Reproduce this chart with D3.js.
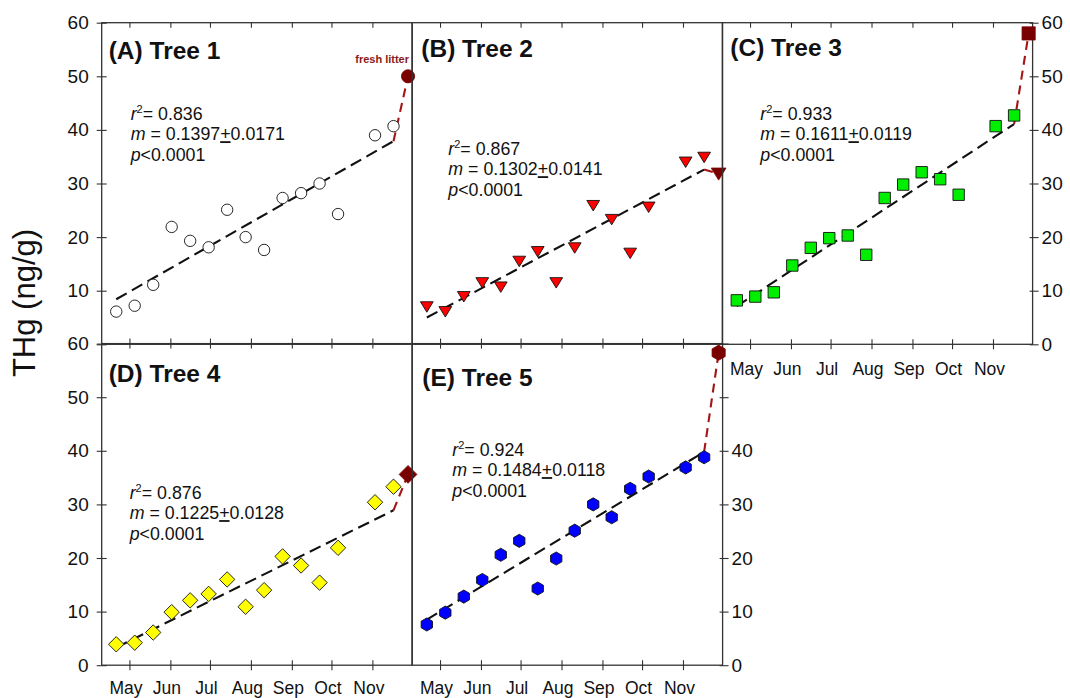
<!DOCTYPE html>
<html>
<head>
<meta charset="utf-8">
<script src="https://cdn.jsdelivr.net/npm/d3@7"></script>
<style>
  body { margin: 0; background: #fff; }
  text { font-family: "Liberation Sans", Arial, sans-serif; fill: #111; }
</style>
</head>
<body>
<svg id="chart"></svg>
<script>
// sampling dates (biweekly) and fresh litter date
const sampleDates = ["2014-04-21", "2014-05-05", "2014-05-19", "2014-06-02", "2014-06-16",
  "2014-06-30", "2014-07-14", "2014-07-28", "2014-08-11", "2014-08-25", "2014-09-08",
  "2014-09-22", "2014-10-06", "2014-11-03", "2014-11-17"];
const freshDate = "2014-11-28";

// THg (ng/g) per tree
const tree1 = [6.1, 7.2, 11.1, 21.9, 19.3, 18.1, 25.1, 20.0, 17.6, 27.3, 28.2, 30.0, 24.3, 39.0, 40.7];
const tree2 = [7.0, 6.1, 8.9, 11.5, 10.7, 15.5, 17.3, 11.5, 18.0, 25.9, 23.3, 17.0, 25.6, 34.0, 34.9];
const tree3 = [8.2, 8.9, 9.7, 14.7, 18.0, 19.8, 20.3, 16.7, 27.3, 29.8, 32.1, 30.8, 27.9, 40.7, 42.7];
const tree4 = [3.9, 4.2, 6.1, 9.9, 12.1, 13.3, 16.0, 10.9, 14.0, 20.3, 18.6, 15.4, 21.9, 30.4, 33.3];
const tree5 = [7.6, 9.8, 12.8, 15.9, 20.6, 23.2, 14.3, 19.9, 25.1, 30.0, 27.6, 32.9, 35.2, 36.9, 38.8];
const freshLitter = [50.0, 31.8, 58.0, 35.6, 58.3];

// regression line ends
const fitStart = [8.4, 5.0, 7.1, 3.3, 8.5];
const fitEnd = [37.9, 32.6, 41.1, 28.9, 39.8];

const titles = ["(A) Tree 1", "(B) Tree 2", "(C) Tree 3", "(D) Tree 4", "(E) Tree 5"];
const r2 = ["0.836", "0.867", "0.933", "0.876", "0.924"];
const slope = ["0.1397", "0.1302", "0.1611", "0.1225", "0.1484"];
const slopeErr = ["0.0171", "0.0141", "0.0119", "0.0128", "0.0118"];
const pText = "<0.0001";

const yTicks = [0, 10, 20, 30, 40, 50, 60];
const monthTicks = ["2014-05-01", "2014-06-01", "2014-07-01", "2014-08-01", "2014-09-01", "2014-10-01", "2014-11-01"];
const monthNames = ["May", "Jun", "Jul", "Aug", "Sep", "Oct", "Nov"];

const series = [tree1, tree2, tree3, tree4, tree5];
const parse = d3.utcParse("%Y-%m-%d");

// layout
const W = 1070, H = 698;
const colX = [101.7, 412.3, 722.3];
const rowY = [22.7, 343.6];
const pw = 310.3, ph = 321.6;
const panelCol = [0, 1, 2, 0, 1];
const panelRow = [0, 0, 0, 1, 1];
const titleOff = [[7, 36], [9, 34], [8, 33], [7, 38], [10, 42]];
const statsOff = [[29, 97], [36, 132], [38, 97], [28, 155], [40, 112]];
const shapes = ["circle", "triDown", "square", "diamond", "hexagon"];
const fills = ["#ffffff", "#ff0000", "#00ee00", "#ffff00", "#0000ff"];
const litterColor = "#7a0000";
const litterLine = "#a31515";
const frameColor = "#333";

function shapePath(type, s) {
  if (type === "circle") return `M${-s},0A${s},${s} 0 1,0 ${s},0A${s},${s} 0 1,0 ${-s},0Z`;
  if (type === "triDown") return `M${-s * 1.12},${-s * 0.88}L${s * 1.12},${-s * 0.88}L0,${s * 0.95}Z`;
  if (type === "square") return `M${-s},${-s}L${s},${-s}L${s},${s}L${-s},${s}Z`;
  if (type === "diamond") return `M0,${-s * 1.35}L${s * 1.35},0L0,${s * 1.35}L${-s * 1.35},0Z`;
  const pts = d3.range(6).map(k => {
    const a = (-90 + 60 * k) * Math.PI / 180;
    return [s * 1.15 * Math.cos(a), s * 1.15 * Math.sin(a)];
  });
  return "M" + pts.map(p => p.join(",")).join("L") + "Z";
}

const svg = d3.select("#chart").attr("width", W).attr("height", H);
svg.append("rect").attr("width", W).attr("height", H).attr("fill", "#fff");

// y label
svg.append("text")
    .attr("transform", "translate(35,303) rotate(-90)")
    .attr("text-anchor", "middle")
    .attr("font-size", 31)
    .text("THg (ng/g)");

const x = d3.scaleUtc()
    .domain([Date.UTC(2014, 3, 10), Date.UTC(2014, 11, 1)])
    .range([0, pw]);
const y = d3.scaleLinear().domain([0, 60]).range([ph, 0]);

series.forEach((vals, i) => {
  const col = panelCol[i], row = panelRow[i];
  const g = svg.append("g").attr("transform", `translate(${colX[col]},${rowY[row]})`);

  // frame
  g.append("rect").attr("width", pw).attr("height", ph)
      .attr("fill", "none").attr("stroke", frameColor).attr("stroke-width", 1.3);

  const mt = monthTicks.map(parse);

  // top ticks
  const top = g.append("g").call(d3.axisTop(x).tickValues(mt).tickSize(5).tickFormat(""));
  top.select(".domain").remove();
  top.selectAll(".tick line").attr("y1", row === 0 ? 0 : 5).attr("y2", row === 0 ? 5 : -5)
      .attr("stroke", frameColor).attr("stroke-width", 1.1);

  // bottom ticks + month labels where the panel has nothing below
  const hasBottom = row === 1 || col === 2;
  if (hasBottom) {
    const bot = g.append("g").attr("transform", `translate(0,${ph})`)
        .call(d3.axisBottom(x).tickValues(mt).tickSize(5).tickFormat((d, k) => monthNames[k]));
    bot.select(".domain").remove();
    bot.selectAll(".tick line").attr("y1", -5).attr("stroke", frameColor).attr("stroke-width", 1.1);
    bot.selectAll(".tick text").attr("y", row === 1 ? 29 : 31).attr("dy", 0).attr("dx", -4)
        .attr("font-size", 17.5).attr("font-family", "Liberation Sans, Arial, sans-serif").attr("fill", "#111");
  }

  // left y axis
  if (col === 0) {
    const shown = row === 0 ? [10, 20, 30, 40, 50, 60] : yTicks;
    const ax = g.append("g")
        .call(d3.axisLeft(y).tickValues(yTicks).tickSize(5).tickPadding(8)
          .tickFormat(d => shown.includes(d) ? d : ""));
    ax.select(".domain").remove();
    ax.selectAll(".tick line").attr("x1", 5).attr("stroke", frameColor).attr("stroke-width", 1.1);
    ax.selectAll(".tick text").attr("font-size", 19)
        .attr("font-family", "Liberation Sans, Arial, sans-serif").attr("fill", "#111");
  }
  // right y axis (C and E)
  if (col === 2 || (col === 1 && row === 1)) {
    const shown = col === 2 ? yTicks : [0, 10, 20, 30, 40];
    const ax = g.append("g").attr("transform", `translate(${pw},0)`)
        .call(d3.axisRight(y).tickValues(yTicks).tickSize(6).tickPadding(3)
          .tickFormat(d => shown.includes(d) ? d : ""));
    ax.select(".domain").remove();
    ax.selectAll(".tick line").attr("x1", -3).attr("stroke", frameColor).attr("stroke-width", 1.1);
    ax.selectAll(".tick text").attr("font-size", 19)
        .attr("font-family", "Liberation Sans, Arial, sans-serif").attr("fill", "#111");
  }

  const d0 = parse(sampleDates[0]);
  const dN = parse(sampleDates[sampleDates.length - 1]);
  const dF = parse(freshDate);

  // regression line
  g.append("line")
      .attr("x1", x(d0)).attr("y1", y(fitStart[i]))
      .attr("x2", x(dN)).attr("y2", y(fitEnd[i]))
      .attr("stroke", "#111").attr("stroke-width", 2.1).attr("stroke-dasharray", "12,6");

  // link to fresh litter
  g.append("line")
      .attr("x1", x(dN)).attr("y1", y(fitEnd[i]))
      .attr("x2", x(dF)).attr("y2", y(freshLitter[i]))
      .attr("stroke", litterLine).attr("stroke-width", 2.1).attr("stroke-dasharray", "9,6");

  // samples
  g.selectAll(".pt").data(vals).enter().append("path")
      .attr("class", "pt")
      .attr("transform", (d, k) => `translate(${x(parse(sampleDates[k]))},${y(d)})`)
      .attr("d", shapePath(shapes[i], 5.7))
      .attr("fill", fills[i]).attr("stroke", "#111").attr("stroke-width", 0.9);

  // fresh litter point
  g.append("path")
      .attr("transform", `translate(${x(dF)},${y(freshLitter[i])})`)
      .attr("d", shapePath(shapes[i], 6.6))
      .attr("fill", litterColor).attr("stroke", litterColor).attr("stroke-width", 0.8);

  if (i === 0) {
    g.append("text")
        .attr("x", x(dF) + 1).attr("y", y(freshLitter[i]) - 13)
        .attr("text-anchor", "end")
        .attr("font-size", 11).attr("font-weight", "bold")
        .style("fill", "#8b1a1a")
        .text("fresh litter");
  }

  // panel title
  g.append("text")
      .attr("x", titleOff[i][0]).attr("y", titleOff[i][1])
      .attr("font-size", 24.5).attr("font-weight", "bold")
      .text(titles[i]);

  // stats
  const sx = statsOff[i][0], sy = statsOff[i][1];
  const t1 = g.append("text").attr("x", sx).attr("y", sy).attr("font-size", 17.8);
  t1.append("tspan").attr("font-style", "italic").text("r");
  t1.append("tspan").attr("font-size", 11).attr("dy", -7).text("2");
  t1.append("tspan").attr("dy", 7).text("= " + r2[i]);

  const t2 = g.append("text").attr("x", sx).attr("y", sy + 20.5).attr("font-size", 17.8);
  t2.append("tspan").attr("font-style", "italic").text("m");
  t2.append("tspan").text(" = " + slope[i]);
  t2.append("tspan").style("text-decoration", "underline").text("+");
  t2.append("tspan").text(slopeErr[i]);

  const t3 = g.append("text").attr("x", sx).attr("y", sy + 41).attr("font-size", 17.8);
  t3.append("tspan").attr("font-style", "italic").text("p");
  t3.append("tspan").text(pText);
});
</script>
</body>
</html>
